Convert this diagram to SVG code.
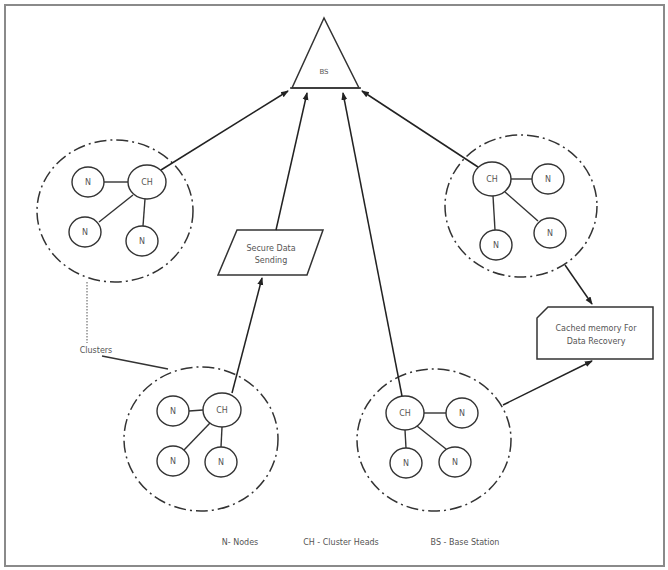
<svg xmlns="http://www.w3.org/2000/svg" width="668" height="570" viewBox="0 0 668 570">
<style>
.frame{fill:#fff;stroke:#8a8a8a;stroke-width:2}
.cl{fill:none;stroke:#333;stroke-width:1.5;stroke-dasharray:12 4 2 4}
.nd{fill:#fff;stroke:#333;stroke-width:1.4}
.ln{fill:none;stroke:#333;stroke-width:1.4}
.ar{fill:none;stroke:#222;stroke-width:1.5;marker-end:url(#ah)}
.dot{fill:none;stroke:#555;stroke-width:1;stroke-dasharray:1.5 1.5}
.sh{fill:#fff;stroke:#333;stroke-width:1.5}
text{font-family:"DejaVu Sans","Liberation Sans",sans-serif;font-size:8px;fill:#555;text-anchor:middle}
</style>
<defs>
<marker id="ah" markerWidth="8" markerHeight="8" refX="7" refY="4" orient="auto" markerUnits="userSpaceOnUse">
<path d="M0,1 L8,4 L0,7 z" fill="#222"/>
</marker>
</defs>
<rect class="frame" x="5" y="5" width="659" height="561"/>

<g id="bs">
<polygon class="sh" points="324,18 292,88 359,88"/>
<line class="ln" x1="290" y1="88" x2="361" y2="88" stroke-width="2"/>
<text x="324" y="74" style="font-size:7px">BS</text>
</g>

<g id="cluster-left">
<ellipse class="cl" cx="115" cy="211" rx="78" ry="71"/>
<line class="ln" x1="104" y1="182" x2="128" y2="182"/>
<line class="ln" x1="133" y1="195" x2="99" y2="222"/>
<line class="ln" x1="145" y1="199" x2="143" y2="226"/>
<ellipse class="nd" cx="88" cy="182" rx="16" ry="15"/><text x="88" y="185">N</text>
<ellipse class="nd" cx="147" cy="182" rx="19" ry="17"/><text x="147" y="185">CH</text>
<ellipse class="nd" cx="85" cy="232" rx="16" ry="15"/><text x="85" y="235">N</text>
<ellipse class="nd" cx="142" cy="241" rx="16" ry="15"/><text x="142" y="244">N</text>
</g>

<g id="cluster-right">
<ellipse class="cl" cx="521" cy="206" rx="76" ry="71"/>
<line class="ln" x1="511" y1="179" x2="532" y2="179"/>
<line class="ln" x1="493" y1="196" x2="495" y2="230"/>
<line class="ln" x1="505" y1="192" x2="538" y2="221"/>
<ellipse class="nd" cx="492" cy="179" rx="19" ry="17"/><text x="492" y="182">CH</text>
<ellipse class="nd" cx="548" cy="179" rx="16" ry="15"/><text x="548" y="182">N</text>
<ellipse class="nd" cx="550" cy="233" rx="16" ry="15"/><text x="550" y="236">N</text>
<ellipse class="nd" cx="496" cy="245" rx="16" ry="15"/><text x="496" y="248">N</text>
</g>

<g id="cluster-bottom-left">
<ellipse class="cl" cx="201" cy="439" rx="77" ry="72"/>
<line class="ln" x1="189" y1="411" x2="203" y2="410"/>
<line class="ln" x1="210" y1="423" x2="184" y2="450"/>
<line class="ln" x1="222" y1="427" x2="221" y2="447"/>
<ellipse class="nd" cx="173" cy="411" rx="16" ry="15"/><text x="173" y="414">N</text>
<ellipse class="nd" cx="222" cy="410" rx="19" ry="17"/><text x="222" y="413">CH</text>
<ellipse class="nd" cx="173" cy="461" rx="16" ry="15"/><text x="173" y="464">N</text>
<ellipse class="nd" cx="221" cy="462" rx="16" ry="15"/><text x="221" y="465">N</text>
</g>

<g id="cluster-bottom-right">
<ellipse class="cl" cx="434" cy="440" rx="77" ry="71"/>
<line class="ln" x1="424" y1="413" x2="446" y2="413"/>
<line class="ln" x1="405" y1="430" x2="406" y2="448"/>
<line class="ln" x1="417" y1="426" x2="446" y2="449"/>
<ellipse class="nd" cx="405" cy="413" rx="19" ry="17"/><text x="405" y="416">CH</text>
<ellipse class="nd" cx="462" cy="413" rx="16" ry="15"/><text x="462" y="416">N</text>
<ellipse class="nd" cx="406" cy="463" rx="16" ry="15"/><text x="406" y="466">N</text>
<ellipse class="nd" cx="455" cy="462" rx="16" ry="15"/><text x="455" y="465">N</text>
</g>

<g id="secure-data">
<polygon class="sh" points="237,230 323,230 307,275 218,275"/>
<text x="271" y="251">Secure Data</text>
<text x="271" y="263">Sending</text>
</g>

<g id="cached-memory">
<polygon class="sh" points="548,307 653,307 653,359 537,359 537,318"/>
<text x="596" y="331">Cached memory For</text>
<text x="596" y="344">Data Recovery</text>
</g>

<g id="clusters-label">
<text x="96" y="353">Clusters</text>
</g>

<g id="connectors">
<line class="ar" x1="161" y1="170" x2="288" y2="91"/>
<line class="ar" x1="276" y1="230" x2="307" y2="93"/>
<line class="ar" x1="402" y1="396" x2="343" y2="93"/>
<line class="ar" x1="478" y1="167" x2="362" y2="91"/>
<line class="ar" x1="232" y1="393" x2="262" y2="278"/>
<line class="ar" x1="565" y1="265" x2="592" y2="304"/>
<line class="ar" x1="503" y1="405" x2="592" y2="361"/>
<line class="dot" x1="87" y1="282" x2="87" y2="343"/>
<line class="ln" x1="102" y1="356" x2="168" y2="369" stroke-width="1"/>
</g>

<g id="legend">
<text x="240" y="545">N- Nodes</text>
<text x="341" y="545">CH - Cluster Heads</text>
<text x="465" y="545">BS - Base Station</text>
</g>
</svg>
